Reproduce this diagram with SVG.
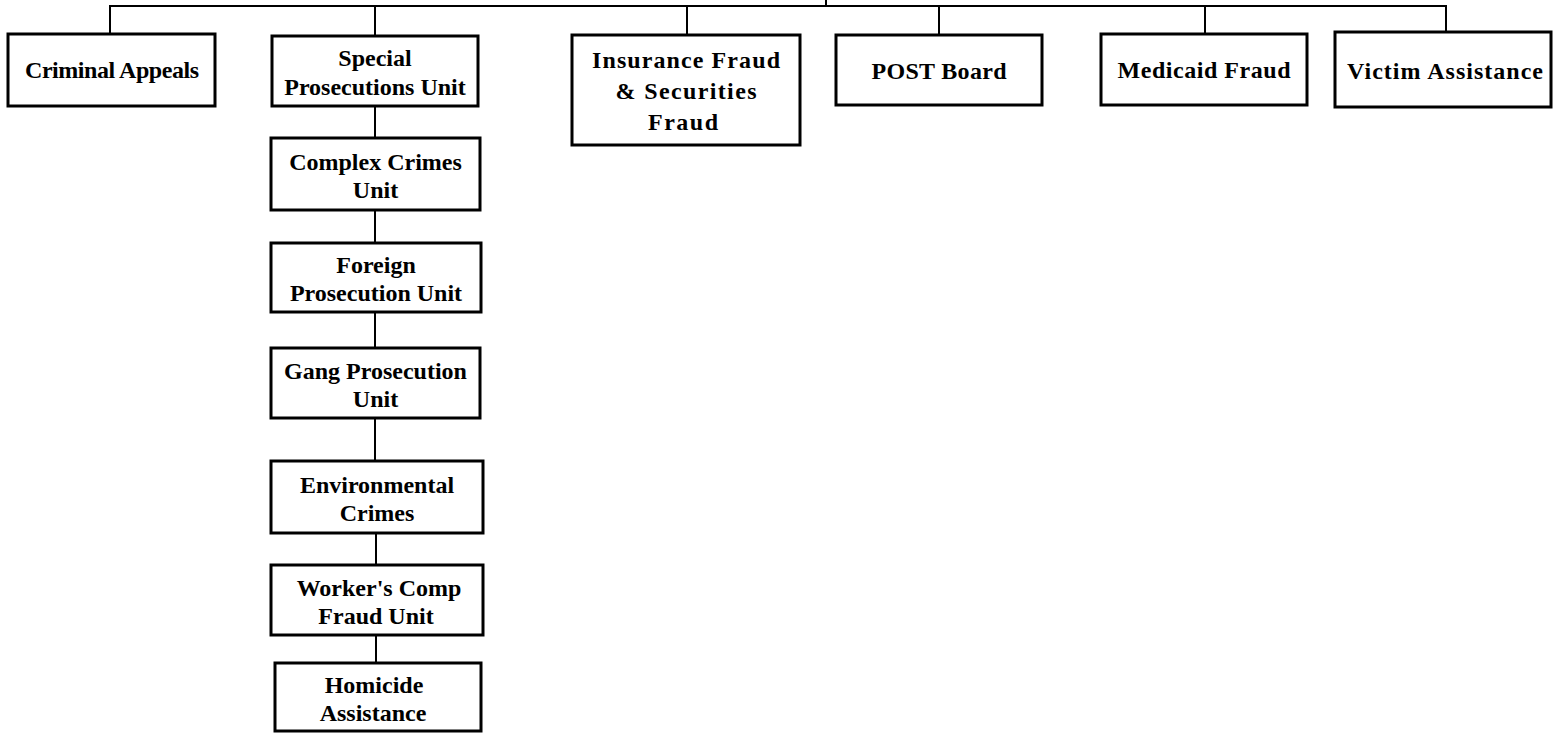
<svg xmlns="http://www.w3.org/2000/svg" width="1554" height="734" viewBox="0 0 1554 734">
  <style>
    .box { fill: #ffffff; stroke: #000000; stroke-width: 3; }
    .lbl { font-family: "Liberation Serif", "Times New Roman", serif; font-weight: bold; font-size: 24px; fill: #000000; text-anchor: middle; }
    .wire { fill: none; stroke: #000000; stroke-width: 2; }
  </style>
  <rect width="1554" height="734" fill="#ffffff"/>

  <!-- connectors -->
  <g id="connectors" class="wire">
    <path d="M826 0 V6"/>
    <path d="M110 33 V6 H1446 V32"/>
    <path d="M375 6 V35"/>
    <path d="M687 6 V35"/>
    <path d="M939 6 V35"/>
    <path d="M1205 6 V35"/>
    <path d="M375 106 V138"/>
    <path d="M375 210 V243"/>
    <path d="M375 312 V348"/>
    <path d="M375 418 V461"/>
    <path d="M376 533 V565"/>
    <path d="M376 635 V663"/>
  </g>

  <!-- top row -->
  <g id="criminal-appeals">
    <rect class="box" x="8" y="34" width="207" height="72"/>
    <text class="lbl" x="112" y="78" textLength="174">Criminal Appeals</text>
  </g>
  <g id="special-prosecutions">
    <rect class="box" x="272" y="36" width="206" height="70"/>
    <text class="lbl" x="375" y="66">Special</text>
    <text class="lbl" x="375" y="95">Prosecutions Unit</text>
  </g>
  <g id="insurance-fraud">
    <rect class="box" x="572" y="35" width="228" height="110"/>
    <text class="lbl" x="686" y="68" textLength="188">Insurance Fraud</text>
    <text class="lbl" x="686" y="99" textLength="141">&amp; Securities</text>
    <text class="lbl" x="683" y="130" textLength="70">Fraud</text>
  </g>
  <g id="post-board">
    <rect class="box" x="836" y="35" width="206" height="70"/>
    <text class="lbl" x="939" y="79" textLength="135">POST Board</text>
  </g>
  <g id="medicaid-fraud">
    <rect class="box" x="1101" y="34" width="206" height="71"/>
    <text class="lbl" x="1204" y="78" textLength="173">Medicaid Fraud</text>
  </g>
  <g id="victim-assistance">
    <rect class="box" x="1335" y="32" width="216" height="75"/>
    <text class="lbl" x="1445" y="79" textLength="196">Victim Assistance</text>
  </g>

  <!-- special prosecutions sub-units -->
  <g id="complex-crimes">
    <rect class="box" x="271" y="138" width="209" height="72"/>
    <text class="lbl" x="375.5" y="170">Complex Crimes</text>
    <text class="lbl" x="375.5" y="198">Unit</text>
  </g>
  <g id="foreign-prosecution">
    <rect class="box" x="271" y="243" width="210" height="69"/>
    <text class="lbl" x="376" y="273">Foreign</text>
    <text class="lbl" x="376" y="301">Prosecution Unit</text>
  </g>
  <g id="gang-prosecution">
    <rect class="box" x="271" y="348" width="209" height="70"/>
    <text class="lbl" x="375.5" y="379">Gang Prosecution</text>
    <text class="lbl" x="375.5" y="407">Unit</text>
  </g>
  <g id="environmental-crimes">
    <rect class="box" x="271" y="461" width="212" height="72"/>
    <text class="lbl" x="377" y="493">Environmental</text>
    <text class="lbl" x="377" y="521">Crimes</text>
  </g>
  <g id="workers-comp">
    <rect class="box" x="271" y="565" width="212" height="70"/>
    <text class="lbl" x="379" y="596">Worker's Comp</text>
    <text class="lbl" x="376" y="624">Fraud Unit</text>
  </g>
  <g id="homicide-assistance">
    <rect class="box" x="275" y="663" width="206" height="68"/>
    <text class="lbl" x="374" y="693">Homicide</text>
    <text class="lbl" x="373" y="721">Assistance</text>
  </g>
</svg>
